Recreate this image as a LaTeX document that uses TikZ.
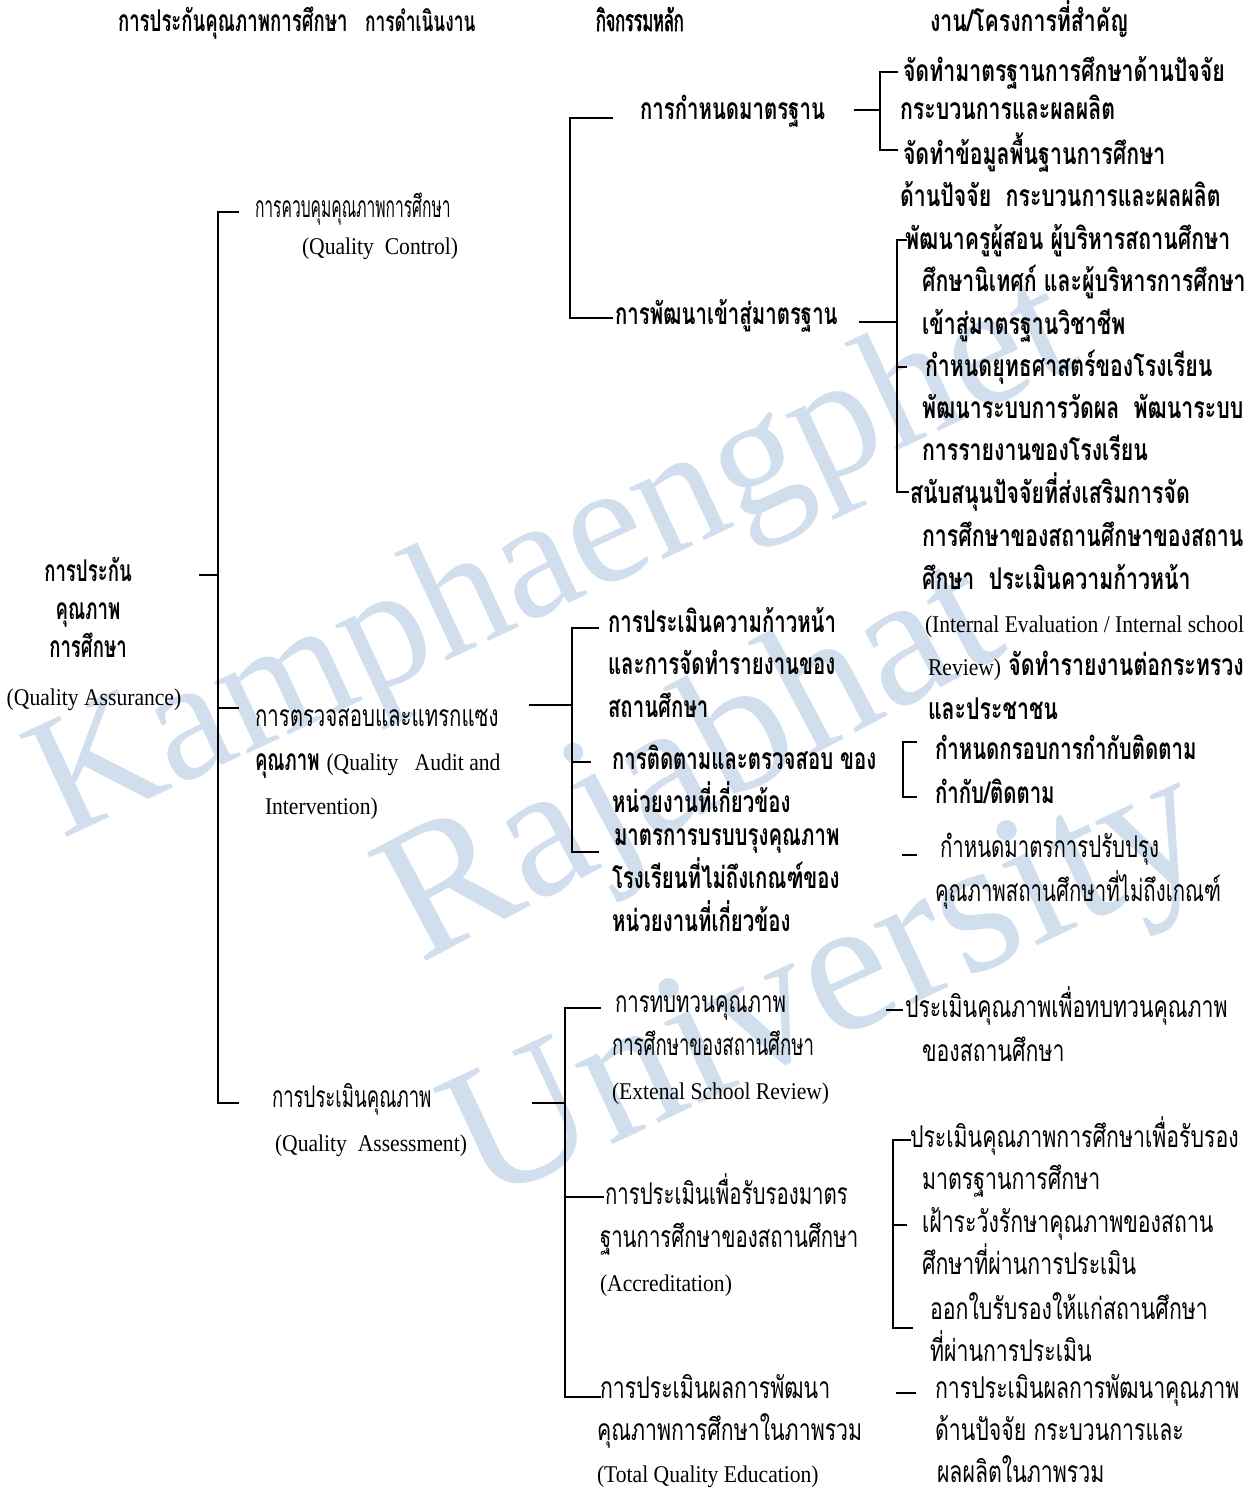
\documentclass[tikz,border=0pt]{standalone}
\usepackage{fontspec}
\setmainfont{Liberation Serif}[FakeStretch=0.9]
\newfontfamily\thaiA[Script=Thai,FakeStretch=0.52]{Loma}
\newfontfamily\thaiB[Script=Thai,FakeStretch=0.62]{Loma}
\newfontfamily\thaiC[Script=Thai,FakeStretch=0.68]{Loma}
\newfontfamily\thaiD[Script=Thai,FakeStretch=0.71]{Loma}
\newfontfamily\thaiH[Script=Thai,FakeStretch=0.54,FakeBold=2]{Loma}
\newfontfamily\wmfont{Liberation Serif}
\definecolor{wm}{RGB}{208,222,238}
\newcommand\fA{\thaiA\fontsize{15}{21.5}\selectfont}
\newcommand\fB{\thaiB\fontsize{15}{21.5}\selectfont}
\newcommand\fC{\thaiC\fontsize{15}{21.5}\selectfont}
\newcommand\fD{\thaiD\fontsize{15}{21.5}\selectfont}
\newcommand\fH{\thaiH\fontsize{15}{21.5}\selectfont}
\newcommand\lat[1]{{\rmfamily\mdseries\fontsize{12}{21.5}\selectfont #1}}
\newcommand\ml[2][21.5pt]{\vtop{\baselineskip=#1\lineskiplimit=-\maxdimen\lineskip=0pt\halign{##\hfil\cr#2\crcr}}}
\newcommand\mc[2][19pt]{\vtop{\baselineskip=#1\lineskiplimit=-\maxdimen\lineskip=0pt\halign{\hfil##\hfil\cr#2\crcr}}}
\tikzset{
  txt/.style={inner sep=0pt, outer sep=0pt, anchor=base west},
  rA/.style={txt, font=\fA},
  rB/.style={txt, font=\fB}, bB/.style={txt, font=\fB\bfseries},
  rC/.style={txt, font=\fC}, bC/.style={txt, font=\fC\bfseries},
  rD/.style={txt, font=\fD}, bD/.style={txt, font=\fD\bfseries},
  bH/.style={txt, font=\fH},
  wmark/.style 2 args={inner sep=0pt, anchor=base west, rotate=#2, text=wm, font=\wmfont\fontsize{#1}{#1}\selectfont},
  conn/.style={line width=1pt, line cap=rect}
}
\begin{document}
\begin{tikzpicture}[x=0.5pt,y=-0.5pt]
\useasboundingbox (0,0) rectangle (1248,1494);
% watermark
\node[wmark={86}{25}] (wmA) at (62,840) {Kamphaengphet};
\node[wmark={94}{28}] (wmB) at (420,965) {Rajabhat};
\node[wmark={96}{25}] (wmC) at (482,1205) {University};
% headers
\node[bB] (h1) at (118,31) {การประกันคุณภาพการศึกษา};
\node[bB] (h2) at (365,31) {\fontsize{14}{21.5}\selectfont การดำเนินงาน};
\node[bH] (h3) at (596,31) {กิจกรรมหลัก};
\node[bD] (h4) at (930,31) {งาน/โครงการที่สำคัญ};
% root
\node[bB, anchor=base] (root) at (88,581) {\mc{การประกัน\cr คุณภาพ\cr การศึกษา}};
\node[txt, anchor=base, font=\rmfamily\fontsize{12}{14}\selectfont] (rootEN) at (94,705) {(Quality Assurance)};
% level 1
\node[rA] (qc) at (255,217) {การควบคุมคุณภาพการศึกษา};
\node[txt, anchor=base] (qcEN) at (380,254) {\lat{(Quality\ \ Control)}};
\node[rC] (qa) at (255,726) {\ml[22pt]{การตรวจสอบและแทรกแซง\cr {\bfseries\fB คุณภาพ} \lat{(Quality\ \ \ Audit and}\cr \kern5pt\lat{Intervention)}}};
\node[rB] (qs) at (272,1107) {\ml[22pt]{การประเมินคุณภาพ\cr \kern1.5pt\lat{(Quality\ \ Assessment)}}};
% group 1
\node[bC] (std) at (640,119) {การกำหนดมาตรฐาน};
\node[bC] (dev) at (615,324) {การพัฒนาเข้าสู่มาตรฐาน};
\node[bD] (r1) at (900,81) {\ml[19pt]{\kern1.5pt จัดทำมาตรฐานการศึกษาด้านปัจจัย\cr กระบวนการและผลผลิต}};
\node[bD] (r2) at (900,164) {\ml[21pt]{\kern1.5pt จัดทำข้อมูลพื้นฐานการศึกษา\cr ด้านปัจจัย\ \ กระบวนการและผลผลิต}};
\node[bD] (r3) at (922,249) {\ml[21.25pt]{\kern-8.5pt พัฒนาครูผู้สอน ผู้บริหารสถานศึกษา\cr ศึกษานิเทศก์ และผู้บริหารการศึกษา\cr เข้าสู่มาตรฐานวิชาชีพ}};
\node[bD] (r4) at (922,376) {\ml[21pt]{\kern1.5pt กำหนดยุทธศาสตร์ของโรงเรียน\cr พัฒนาระบบการวัดผล\ \ พัฒนาระบบ\cr การรายงานของโรงเรียน}};
\node[bD] (r5) at (922,503) {\ml[21.6pt]{\kern-6pt สนับสนุนปัจจัยที่ส่งเสริมการจัด\cr การศึกษาของสถานศึกษาของสถาน\cr ศึกษา\ \ ประเมินความก้าวหน้า\cr \kern1.5pt{\fontsize{11.8}{21.5}\selectfont\lat{(Internal Evaluation / Internal school}}\cr \kern3pt\lat{Review)} จัดทำรายงานต่อกระทรวง\cr \kern3pt และประชาชน}};
% group 2
\node[bC] (a1) at (608,632) {\ml[21.25pt]{การประเมินความก้าวหน้า\cr และการจัดทำรายงานของ\cr สถานศึกษา}};
\node[bC] (a2) at (612,769) {\ml[21.5pt]{การติดตามและตรวจสอบ ของ\cr หน่วยงานที่เกี่ยวข้อง}};
\node[bC] (a3) at (612,845) {\ml[21.5pt]{\kern1pt มาตรการบรบบรุงคุณภาพ\cr โรงเรียนที่ไม่ถึงเกณฑ์ของ\cr หน่วยงานที่เกี่ยวข้อง}};
\node[bC] (a2r) at (935,759) {\ml[22pt]{กำหนดกรอบการกำกับติดตาม\cr กำกับ/ติดตาม}};
\node[rC] (a3r) at (935,857) {\ml[22pt]{\kern2.5pt กำหนดมาตรการปรับปรุง\cr คุณภาพสถานศึกษาที่ไม่ถึงเกณฑ์}};
% group 3
\node[rC] (s1) at (612,1012) {\ml[21.75pt]{\kern1.5pt การทบทวนคุณภาพ\cr {\fB การศึกษาของสถานศึกษา}\cr \lat{(Extenal School Review)}}};
\node[rC] (s2) at (600,1204) {\ml[21.75pt]{\kern2.5pt การประเมินเพื่อรับรองมาตร\cr ฐานการศึกษาของสถานศึกษา\cr \lat{(Accreditation)}}};
\node[rD] (s3) at (597,1398) {\ml[21pt]{\kern1.5pt การประเมินผลการพัฒนา\cr คุณภาพการศึกษาในภาพรวม\cr \lat{(Total Quality Education)}}};
\node[rD] (s1r) at (922,1017) {\ml[22pt]{\kern-8.5pt ประเมินคุณภาพเพื่อทบทวนคุณภาพ\cr ของสถานศึกษา}};
\node[rD] (s2r1) at (922,1147) {\ml[21pt]{\kern-6pt ประเมินคุณภาพการศึกษาเพื่อรับรอง\cr มาตรฐานการศึกษา}};
\node[rD] (s2r2) at (922,1232) {\ml[21pt]{เฝ้าระวังรักษาคุณภาพของสถาน\cr ศึกษาที่ผ่านการประเมิน}};
\node[rD] (s2r3) at (930,1319) {\ml[21pt]{ออกใบรับรองให้แก่สถานศึกษา\cr ที่ผ่านการประเมิน}};
\node[rD] (s3r) at (935,1398) {\ml[21pt]{การประเมินผลการพัฒนาคุณภาพ\cr ด้านปัจจัย กระบวนการและ\cr \kern1pt ผลผลิตในภาพรวม}};
% ---- connector coordinates
\coordinate (rootT) at (200,575);
\coordinate (trR) at (218,575);
\coordinate (trTop) at (218,212);
\coordinate (trMid) at (218,708);
\coordinate (trBot) at (218,1103);
\coordinate (qcT) at (238,212);
\coordinate (qaT) at (238,708);
\coordinate (qsT) at (238,1103);
% group 1
\coordinate (g1a) at (612,118);
\coordinate (g1b) at (570,118);
\coordinate (g1c) at (570,318);
\coordinate (g1d) at (612,318);
\coordinate (stdR) at (855,110);
\coordinate (b1m) at (880,110);
\coordinate (b1a) at (897,72);
\coordinate (b1b) at (880,72);
\coordinate (b1c) at (880,150);
\coordinate (b1d) at (897,150);
\coordinate (devR) at (860,322);
\coordinate (b2m) at (897,322);
\coordinate (b2a) at (906,240);
\coordinate (b2b) at (897,240);
\coordinate (b2c) at (897,492);
\coordinate (b2d) at (908,492);
\coordinate (b2e) at (897,367);
\coordinate (b2f) at (906,367);
% group 2
\coordinate (qaR) at (530,705);
\coordinate (g2m) at (572,705);
\coordinate (g2a) at (598,628);
\coordinate (g2b) at (572,628);
\coordinate (g2c) at (572,852);
\coordinate (g2d) at (598,852);
\coordinate (g2e) at (572,762);
\coordinate (g2f) at (590,762);
\coordinate (b3a) at (916,742);
\coordinate (b3b) at (903,742);
\coordinate (b3c) at (903,797);
\coordinate (b3d) at (916,797);
\coordinate (d3a) at (903,855);
\coordinate (d3b) at (916,855);
% group 3
\coordinate (qsR) at (533,1103);
\coordinate (g3m) at (565,1103);
\coordinate (g3a) at (600,1008);
\coordinate (g3b) at (565,1008);
\coordinate (g3c) at (565,1397);
\coordinate (g3d) at (600,1397);
\coordinate (g3e) at (565,1197);
\coordinate (g3f) at (603,1197);
\coordinate (d4a) at (887,1010);
\coordinate (d4b) at (902,1010);
\coordinate (b4a) at (910,1140);
\coordinate (b4b) at (893,1140);
\coordinate (b4c) at (893,1328);
\coordinate (b4d) at (912,1328);
\coordinate (b4e) at (893,1225);
\coordinate (b4f) at (906,1225);
\coordinate (d5a) at (897,1393);
\coordinate (d5b) at (915,1393);
% ---- connectors
\draw[conn] (rootT) -- (trR);
\draw[conn] (qcT) -- (trTop) -- (trBot) -- (qsT);
\draw[conn] (trMid) -- (qaT);
\draw[conn] (g1a) -- (g1b) -- (g1c) -- (g1d);
\draw[conn] (stdR) -- (b1m);
\draw[conn] (b1a) -- (b1b) -- (b1c) -- (b1d);
\draw[conn] (devR) -- (b2m);
\draw[conn] (b2a) -- (b2b) -- (b2c) -- (b2d);
\draw[conn] (b2e) -- (b2f);
\draw[conn] (qaR) -- (g2m);
\draw[conn] (g2a) -- (g2b) -- (g2c) -- (g2d);
\draw[conn] (g2e) -- (g2f);
\draw[conn] (b3a) -- (b3b) -- (b3c) -- (b3d);
\draw[conn] (d3a) -- (d3b);
\draw[conn] (qsR) -- (g3m);
\draw[conn] (g3a) -- (g3b) -- (g3c) -- (g3d);
\draw[conn] (g3e) -- (g3f);
\draw[conn] (d4a) -- (d4b);
\draw[conn] (b4a) -- (b4b) -- (b4c) -- (b4d);
\draw[conn] (b4e) -- (b4f);
\draw[conn] (d5a) -- (d5b);
\end{tikzpicture}
\end{document}
